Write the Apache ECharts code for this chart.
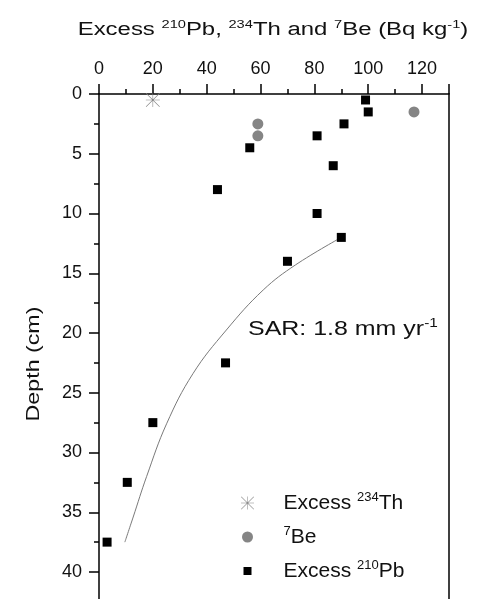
<!DOCTYPE html>
<html>
<head>
<meta charset="utf-8">
<script src="https://cdn.jsdelivr.net/npm/echarts@6/dist/echarts.min.js"></script>
<style>
  html, body { margin: 0; padding: 0; background: #fff; }
  #main { width: 477px; height: 599px; }
</style>
</head>
<body>
<div id="main"></div>
<script>
// Excess 234Th: activity (Bq/kg) and depth (cm)
const thActivity = [20];
const thDepth = [0.5];

// 7Be
const beActivity = [117, 59, 59];
const beDepth = [1.5, 2.5, 3.5];

// Excess 210Pb
const pbActivity = [99, 100, 91, 81, 56, 87, 44, 81, 90, 70, 47, 20, 10.5, 3];
const pbDepth = [0.5, 1.5, 2.5, 3.5, 4.5, 6, 8, 10, 12, 14, 22.5, 27.5, 32.5, 37.5];

// fitted profile, points
const fitActivity = [90, 73, 61, 47.3, 34.9, 25.1, 17.7, 12.7, 9.6];
const fitDepth = [12, 14.3, 16.4, 19.75, 23.4, 27.6, 32, 35.4, 37.5];

// axis ranges
const xRange = [0, 130];
const xStep = 20;
const yRange = [0, 45];
const yStep = 5;

const seriesNames = ['Excess 234Th', '7Be', 'Excess 210Pb'];
const legendLabels = {
  'Excess 234Th': 'Excess {sup|234}Th',
  '7Be': '{sup|7}Be',
  'Excess 210Pb': 'Excess {sup|210}Pb'
};

const FONT = 'Liberation Sans, Arial, Helvetica, sans-serif';

// asterisk made of four thin bars
const starPath = 'path://M48,0L52,0L52,100L48,100Z M0,48L100,48L100,52L0,52Z ' +
  'M3,0L100,97L97,100L0,3Z M97,0L100,3L3,100L0,97Z';
// legend icons with some empty room around them so they come out smaller
const squareIcon = 'path://M0,0M13,13M2.5,2.5L10.5,2.5L10.5,10.5L2.5,10.5Z';
const circleIcon = 'path://M0,0M13,13M12,6.5A5.5,5.5,0,1,1,1,6.5A5.5,5.5,0,1,1,12,6.5Z';

const pairs = (xs, ys) => xs.map((x, i) => [x, ys[i]]);

const supRich = (size) => ({
  sup: { fontSize: size, fontFamily: FONT, fill: '#111', color: '#111', verticalAlign: 'top', lineHeight: size }
});

const chart = echarts.init(document.getElementById('main'), null, { renderer: 'canvas' });

const option = {
  animation: false,
  backgroundColor: '#fff',
  // 0..45 cm spans 537.75 px, so the plot runs off the bottom edge like the original
  grid: { left: 99, right: 28, top: 94, height: 537.75, containLabel: false, outerBoundsMode: 'none' },
  xAxis: {
    type: 'value',
    position: 'top',
    min: xRange[0],
    max: xRange[1],
    interval: xStep,
    axisLine: { show: true, lineStyle: { color: '#000', width: 1.5 } },
    axisTick: { show: true, length: 10, lineStyle: { color: '#000', width: 1.5 } },
    minorTick: { show: true, splitNumber: 2, length: 5, lineStyle: { color: '#000', width: 1.5 } },
    splitLine: { show: false },
    axisLabel: { fontSize: 18, fontFamily: FONT, color: '#111', margin: 16, showMaxLabel: false }
  },
  yAxis: [
    {
      type: 'value',
      inverse: true,
      min: yRange[0],
      max: yRange[1],
      interval: yStep,
      axisLine: { show: true, onZero: false, lineStyle: { color: '#000', width: 1.5 } },
      axisTick: { show: true, length: 10, lineStyle: { color: '#000', width: 1.5 } },
      minorTick: { show: true, splitNumber: 2, length: 5, lineStyle: { color: '#000', width: 1.5 } },
      splitLine: { show: false },
      axisLabel: { fontSize: 18, fontFamily: FONT, color: '#111', margin: 17, showMaxLabel: false }
    },
    {
      type: 'value',
      inverse: true,
      position: 'right',
      min: yRange[0],
      max: yRange[1],
      interval: yStep,
      axisLine: { show: true, onZero: false, lineStyle: { color: '#000', width: 1.5 } },
      axisTick: { show: false },
      splitLine: { show: false },
      axisLabel: { show: false }
    }
  ],
  legend: {
    orient: 'vertical',
    left: 236,
    top: 486,
    itemWidth: 62,
    itemHeight: 13,
    itemGap: 10,
    data: [
      { name: seriesNames[0] },
      { name: seriesNames[1], icon: circleIcon },
      { name: seriesNames[2], icon: squareIcon }
    ],
    formatter: (name) => legendLabels[name],
    textStyle: {
      fontSize: 21,
      fontFamily: FONT,
      color: '#111',
      lineHeight: 24,
      rich: supRich(13)
    }
  },
  series: [
    {
      name: 'fit',
      type: 'line',
      smooth: 0.4,
      showSymbol: false,
      symbol: 'none',
      silent: true,
      lineStyle: { color: '#7a7a7a', width: 1 },
      data: pairs(fitActivity, fitDepth),
      z: 1
    },
    {
      name: seriesNames[0],
      type: 'scatter',
      symbol: starPath,
      symbolSize: 14,
      itemStyle: { color: '#858585', opacity: 1 },
      data: pairs(thActivity, thDepth),
      z: 3
    },
    {
      name: seriesNames[1],
      type: 'scatter',
      symbol: 'circle',
      symbolSize: 11,
      itemStyle: { color: '#858585', opacity: 1 },
      data: pairs(beActivity, beDepth),
      z: 3
    },
    {
      name: seriesNames[2],
      type: 'scatter',
      symbol: 'rect',
      symbolSize: 9,
      itemStyle: { color: '#000', opacity: 1 },
      data: pairs(pbActivity, pbDepth),
      z: 4
    }
  ],
  graphic: [
    {
      type: 'text',
      x: 273,
      y: 30,
      scaleX: 1.33,
      style: {
        text: 'Excess {sup|210}Pb, {sup|234}Th and {sup|7}Be (Bq kg{sup|-1})',
        fontSize: 18,
        fontFamily: FONT,
        fill: '#111',
        align: 'center',
        verticalAlign: 'middle',
        textAlign: 'center',
        textVerticalAlign: 'middle',
        lineHeight: 22,
        rich: supRich(11)
      }
    },
    {
      type: 'text',
      x: 248,
      y: 330,
      scaleX: 1.28,
      style: {
        text: 'SAR: 1.8 mm yr{sup|-1}',
        fontSize: 19.5,
        fontFamily: FONT,
        fill: '#111',
        align: 'left',
        verticalAlign: 'middle',
        textAlign: 'left',
        textVerticalAlign: 'middle',
        lineHeight: 24,
        rich: supRich(12)
      }
    },
    {
      type: 'text',
      x: 34,
      y: 364,
      rotation: Math.PI / 2,
      scaleX: 1.29,
      style: {
        text: 'Depth (cm)',
        fontSize: 18,
        fontFamily: FONT,
        fill: '#111',
        align: 'center',
        verticalAlign: 'middle',
        textAlign: 'center',
        textVerticalAlign: 'middle'
      }
    }
  ]
};

chart.setOption(option);
</script>
</body>
</html>
